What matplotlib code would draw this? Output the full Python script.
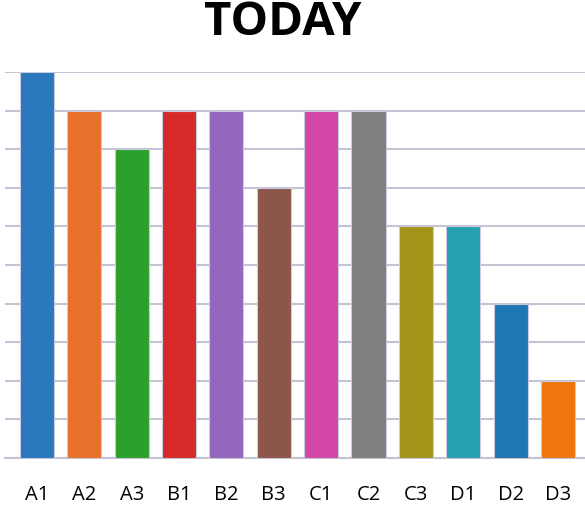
import matplotlib.pyplot as plt

labels = ['A1', 'A2', 'A3', 'B1', 'B2', 'B3', 'C1', 'C2', 'C3', 'D1', 'D2', 'D3']
values = [10, 9, 8, 9, 9, 7, 9, 9, 6, 6, 4, 2]
colors = ['#2c78bd', '#e8702b', '#2ca02c', '#d62a28', '#9467bd', '#8c564b',
          '#d446a8', '#7f7f7f', '#a39419', '#27a1b1', '#1f77b4', '#ef760f']

plt.rcParams['font.family'] = ['Open Sans', 'DejaVu Sans']

fig = plt.figure(figsize=(5.85, 5.06), dpi=100)
ax = fig.add_axes([5 / 585, 47 / 506, 580 / 585, 386 / 506])

x = range(len(labels))
ax.bar(x, values, width=0.72, color=colors, edgecolor='#c8cbe0', linewidth=0.8, zorder=3)

ax.set_xlim(-0.675, 11.57)
ax.set_ylim(0, 10)
ax.set_yticks(range(0, 11))
ax.yaxis.grid(True, color='#c3c3d3', linewidth=1.5, zorder=0)
ax.tick_params(axis='y', left=False, labelleft=False)
ax.tick_params(axis='x', bottom=False, labelsize=14.5, pad=15)
ax.set_xticks(list(x))
ax.set_xticklabels(labels)
for s in ['top', 'right', 'left']:
    ax.spines[s].set_visible(False)
ax.spines['bottom'].set_color('#c3c3d3')
ax.spines['bottom'].set_linewidth(1.5)

fig.text(0.483, 0.955, 'TODAY', ha='center', va='center', fontsize=34, fontweight='bold')

fig.savefig('out.png', dpi=100)
